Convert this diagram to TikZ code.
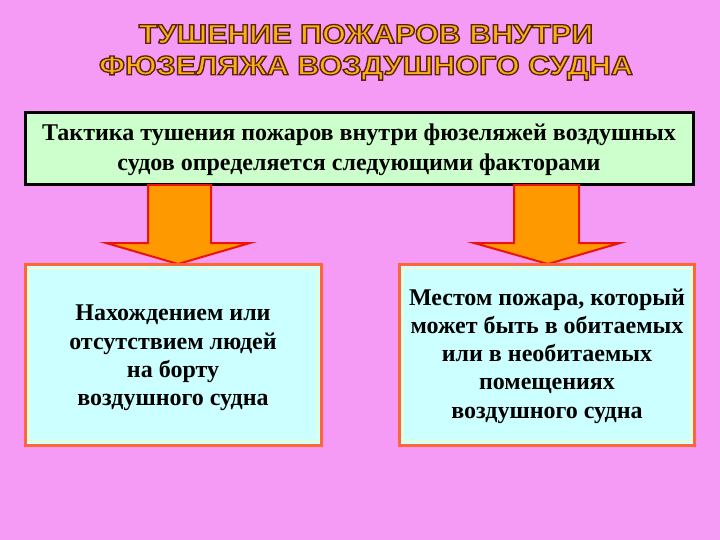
\documentclass[tikz,border=0pt]{standalone}
\usepackage{fontspec}
\setmainfont{Liberation Serif}
\newfontfamily\titlefont{Liberation Sans}
\usetikzlibrary{calc}
\definecolor{bgpink}{RGB}{245,155,245}
\definecolor{boxgreen}{RGB}{204,255,204}
\definecolor{boxcyan}{RGB}{204,255,255}
\definecolor{boxedge}{RGB}{255,102,51}
\definecolor{arrfill}{RGB}{255,153,0}
\definecolor{arredge}{RGB}{235,20,10}
\definecolor{titlefill}{RGB}{255,175,20}
\tikzset{
  maintext/.style={font=\fontsize{24}{30}\selectfont\bfseries, align=center, text=black},
  boxtext/.style={font=\fontsize{24}{28.3}\selectfont\bfseries, align=center, text=black},
  titletext/.style={font=\titlefont\fontsize{27}{27}\selectfont\bfseries, text=titlefill, xscale=1.13},
  downarrow/.style={fill=arrfill, draw=arredge, line width=2pt, line join=miter},
}
\newcommand{\outlined}[1]{\special{pdf:literal direct 0.35 0.15 0.05 RG 1.3 w 2 Tr}#1\special{pdf:literal direct 0 Tr}}
\begin{document}
\begin{tikzpicture}[x=1pt,y=-1pt]
\useasboundingbox (0,0) rectangle (720,540);
\fill[bgpink] (0,0) rectangle (720,540);
% title
\node[titletext] (title1) at (366,34) {\outlined{ТУШЕНИЕ ПОЖАРОВ ВНУТРИ}};
\node[titletext] (title2) at (366,68) {\outlined{ФЮЗЕЛЯЖА ВОЗДУШНОГО СУДНА}};
% top box
\draw[fill=boxgreen, draw=black, line width=3pt] (25,113) rectangle (693,185);
\node[maintext] (top) at (359,150) {Тактика тушения пожаров внутри фюзеляжей воздушных\\судов определяется следующими факторами};
% arrows
\draw[downarrow] (148,185) -- (211,185) -- (211,243) -- (250,243) -- (178,264) -- (106,243) -- (148,243) -- cycle;
\draw[downarrow] (514,185) -- (579,185) -- (579,243) -- (620,243) -- (548,264) -- (474,243) -- (514,243) -- cycle;
% bottom boxes
\draw[fill=boxcyan, draw=boxedge, line width=3pt] (25,264) rectangle (321,445);
\draw[draw=white!70!yellow, line width=0.8pt] (29,268) rectangle (317,441);
\node[boxtext] (left) at (173,358) {Нахождением или\\отсутствием людей\\на борту\\воздушного судна};
\draw[fill=boxcyan, draw=boxedge, line width=3pt] (399,264) rectangle (694,445);
\draw[draw=white!70!yellow, line width=0.8pt] (403,268) rectangle (690,441);
\node[boxtext] (right) at (547,356) {Местом пожара, который\\может быть в обитаемых\\или в необитаемых\\помещениях\\воздушного судна};
\end{tikzpicture}
\end{document}
